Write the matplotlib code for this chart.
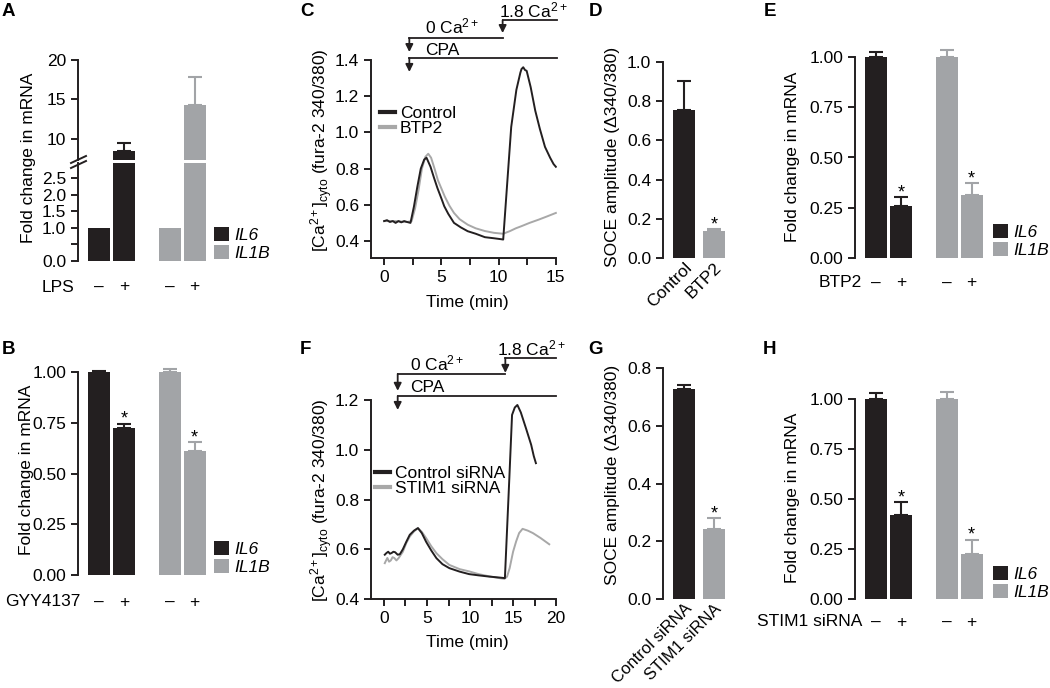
import matplotlib
matplotlib.use('Agg')
import matplotlib.pyplot as plt
from matplotlib.patches import Patch
from matplotlib.lines import Line2D
import numpy as np

W, H = 1050, 688
plt.rcParams['font.family'] = ['Liberation Sans', 'DejaVu Sans']
plt.rcParams['mathtext.fontset'] = 'custom'
plt.rcParams['mathtext.rm'] = 'Liberation Sans'
plt.rcParams['mathtext.it'] = 'Liberation Sans:italic'
plt.rcParams['font.size'] = 12.5

BLACK = '#231f20'
GRAY = '#a2a4a7'
TGRAY = '#a8a8a8'
FS = 12.5

# ---------------- data ----------------
genes = ['IL6', 'IL1B']
signs = ['\u2013', '+', '\u2013', '+']

# A: LPS
a_il6 = [1.0, 8.5]
a_il6_err = [0.0, 1.0]
a_il1b = [1.0, 14.3]
a_il1b_err = [0.0, 3.5]

# B: GYY4137
b_il6 = [1.0, 0.724]
b_il6_err = [0.003, 0.021]
b_il1b = [1.0, 0.612]
b_il1b_err = [0.016, 0.043]

# E: BTP2
e_il6 = [1.0, 0.26]
e_il6_err = [0.023, 0.043]
e_il1b = [1.0, 0.315]
e_il1b_err = [0.036, 0.058]

# H: STIM1 siRNA
h_il6 = [1.0, 0.421]
h_il6_err = [0.032, 0.063]
h_il1b = [1.0, 0.225]
h_il1b_err = [0.037, 0.071]

# D: SOCE amplitude
d_labels = ['Control', 'BTP2']
d_vals = [0.757, 0.136]
d_err = [0.148, 0.012]

# G: SOCE amplitude
g_labels = ['Control siRNA', 'STIM1 siRNA']
g_vals = [0.729, 0.243]
g_err = [0.011, 0.037]

# C traces
c_t_ctrl = [0.0, 0.25, 0.5, 0.75, 1.0, 1.25, 1.5, 1.75, 2.0, 2.3, 2.6, 2.9, 3.2, 3.5, 3.7, 4.05, 4.35, 4.65, 5.0, 5.25,
            5.6, 6.1, 6.7, 7.3, 8.0, 8.8, 9.6, 10.2, 10.4,
            11.1, 11.55, 11.9, 12.0, 12.15, 12.3, 12.45, 12.8, 13.2, 13.6, 14.05, 14.5, 14.8, 15.0]
c_v_ctrl = [0.51, 0.515, 0.505, 0.51, 0.50, 0.51, 0.503, 0.51, 0.505, 0.50, 0.59, 0.70, 0.80, 0.85, 0.86, 0.81, 0.75,
            0.693, 0.635, 0.592,
            0.55, 0.50, 0.475, 0.454, 0.44, 0.421, 0.415, 0.41, 0.408,
            1.03, 1.235, 1.33, 1.35, 1.36, 1.345, 1.34, 1.25, 1.12, 1.02, 0.92, 0.86, 0.825, 0.81]
c_t_btp2 = [0.0, 1.0, 2.0, 2.4, 2.7, 3.0, 3.3, 3.6, 3.85, 4.1, 4.4, 4.7, 5.0, 5.3, 5.7, 6.1, 6.6, 7.3, 8.0, 8.8, 9.6,
            10.4, 11.0, 11.5, 12.0, 12.7, 13.5, 14.2, 14.6, 15.0]
c_v_btp2 = [0.51, 0.51, 0.505, 0.51, 0.58, 0.68, 0.80, 0.865, 0.882, 0.86, 0.80, 0.735, 0.69, 0.645, 0.595, 0.555, 0.52,
            0.49, 0.47, 0.455, 0.445, 0.44, 0.455, 0.47, 0.482, 0.50, 0.518, 0.535, 0.545, 0.555]

# F traces
f_t_ctrl = [0.1, 0.3, 0.5, 0.7, 0.9, 1.1, 1.3, 1.6, 1.85, 2.2, 2.6, 3.0, 3.5, 3.95, 4.4, 4.9, 5.5, 6.1, 6.8, 7.6, 8.8,
            9.9, 11.0, 12.25, 13.2, 14.05,
            14.57, 14.88, 15.2, 15.5, 15.9, 16.5, 17.1, 17.4, 17.65]
f_v_ctrl = [0.578, 0.585, 0.59, 0.582, 0.585, 0.59, 0.588, 0.578, 0.58, 0.60, 0.63, 0.658, 0.675, 0.685, 0.665, 0.63,
            0.595, 0.564, 0.54, 0.524, 0.51, 0.50, 0.495, 0.49, 0.487, 0.484,
            0.89, 1.14, 1.17, 1.18, 1.15, 1.086, 1.02, 0.975, 0.946]
f_t_stim = [0.1, 0.25, 0.4, 0.6, 0.8, 1.0, 1.2, 1.45, 1.7, 2.2, 2.6, 3.0, 3.5, 3.95, 4.4, 4.9, 5.5, 6.1, 6.8, 7.6, 8.8,
            9.9, 11.0, 12.25, 13.2, 14.0,
            14.3, 14.6, 15.0, 15.35, 15.7, 16.1, 16.7, 17.3, 18.2, 19.2]
f_v_stim = [0.544, 0.555, 0.565, 0.55, 0.555, 0.568, 0.565, 0.555, 0.564, 0.59, 0.625, 0.651, 0.672, 0.685, 0.67, 0.645,
            0.612, 0.584, 0.56, 0.537, 0.52, 0.511, 0.50, 0.491, 0.485, 0.481,
            0.49, 0.524, 0.59, 0.631, 0.665, 0.682, 0.675, 0.665, 0.645, 0.62]

# ---------------- helpers ----------------
fig = plt.figure(figsize=(W / 100, H / 100), dpi=100)


def add_ax(l, r, b, t):
    return fig.add_axes([l / W, 1 - b / H, (r - l) / W, (b - t) / H])


def ftext(x, y, s, **kw):
    kw.setdefault('fontsize', FS)
    kw.setdefault('va', 'center')
    return fig.text(x / W, 1 - y / H, s, **kw)


def style(ax, bottom=False):
    for s in ['top', 'right']:
        ax.spines[s].set_visible(False)
    ax.spines['bottom'].set_visible(bottom)
    for s in ['left', 'bottom']:
        ax.spines[s].set_linewidth(1.4)
        ax.spines[s].set_color(BLACK)
    ax.tick_params(axis='both', direction='out', length=5, width=1.4, pad=3.5,
                   labelsize=FS, color=BLACK)
    ax.patch.set_visible(False)


def panel_label(x, y, s):
    ftext(x, y, s, fontsize=13.5, fontweight='bold', ha='left')


POS = np.array([0.0, 1.0, 2.82, 3.82])
BW = 0.88


def bar_group(ax, il6, il6e, il1b, il1be, stars=True, errs=True, clip=False):
    vals = list(il6) + list(il1b)
    errv = list(il6e) + list(il1be)
    cols = [BLACK, BLACK, GRAY, GRAY]
    ax.bar(POS, vals, width=BW, color=cols, zorder=2)
    if errs:
        for p, v, e, c in zip(POS, vals, errv, cols):
            eb = ax.errorbar([p], [v], yerr=[[0], [e]], fmt='none', ecolor=c,
                             elinewidth=1.5, capsize=5, capthick=1.5, zorder=1)
            for art in eb.lines[1] + eb.lines[2]:
                art.set_clip_on(clip)
    if stars:
        for i in [1, 3]:
            ax.annotate('*', xy=(POS[i], vals[i] + errv[i]), xytext=(0, 0),
                        textcoords='offset points', ha='center', va='baseline', fontsize=13)
    ax.set_xlim(-0.84, 4.44)
    ax.set_xticks([])


def signs_row(ax, off_px=26):
    for p, s in zip(POS, signs):
        ax.annotate(s, xy=(p, 0), xycoords=('data', 'axes fraction'),
                    xytext=(0, -off_px * 0.72), textcoords='offset points',
                    ha='center', va='center', fontsize=FS)


def gene_legend(x, ybot):
    handles = [Patch(facecolor=BLACK, edgecolor='none'), Patch(facecolor=GRAY, edgecolor='none')]
    leg = fig.legend(handles, genes, loc='lower left', bbox_to_anchor=(x / W, 1 - ybot / H),
                     bbox_transform=fig.transFigure, frameon=False, fontsize=FS,
                     handlelength=0.85, handleheight=0.85, handletextpad=0.3,
                     labelspacing=0.1, borderpad=0, borderaxespad=0)
    for t in leg.get_texts():
        t.set_fontstyle('italic')


def bar_panel(l, y0px, y1px, top_val, il6, il6e, il1b, il1be):
    ppu = y0px - y1px
    ax = add_ax(l, l + 132, y0px, y0px - top_val * ppu)
    style(ax)
    bar_group(ax, il6, il6e, il1b, il1be)
    ax.set_ylim(0, top_val)
    ax.set_yticks([0, 0.25, 0.5, 0.75, 1.0])
    ax.set_yticklabels(['0.00', '0.25', '0.50', '0.75', '1.00'])
    ax.spines['left'].set_bounds(0, 1)
    return ax


# ---------------- Panel A ----------------
axA1 = add_ax(78, 210, 160, 60)
axA2 = add_ax(78, 210, 261, 163)
for ax in (axA1, axA2):
    style(ax)
bar_group(axA1, a_il6, a_il6_err, a_il1b, a_il1b_err, stars=False, clip=True)
bar_group(axA2, a_il6, a_il6_err, a_il1b, a_il1b_err, stars=False, errs=False)
axA1.set_ylim(7.3, 20)
axA1.set_yticks([10, 15, 20])
axA2.set_ylim(0, 2.95)
axA2.set_yticks([0, 0.5, 1.0, 1.5, 2.0, 2.5])
axA2.set_yticklabels(['0.0', '', '1.0', '1.5', '2.0', '2.5'])
signs_row(axA2)
ftext(74, 287, 'LPS', ha='right')
gene_legend(214, 261)
ftext(28, 158, 'Fold change in mRNA', rotation=90, ha='center')
for dy in (0, 5):
    fig.add_artist(Line2D([71 / W, 86 / W], [1 - (163 + dy) / H, 1 - (156 + dy) / H],
                          color=BLACK, lw=1.4))
panel_label(2, 11, 'A')

# ---------------- Panel B ----------------
axB = bar_panel(78, 575, 372, 1.05, b_il6, b_il6_err, b_il1b, b_il1b_err)
signs_row(axB, 27)
ftext(80, 602, 'GYY4137', ha='right')
gene_legend(214, 575)
ftext(27, 470, 'Fold change in mRNA', rotation=90, ha='center')
panel_label(2, 350, 'B')

# ---------------- Panel E ----------------
axE = bar_panel(855, 258, 57, 1.05, e_il6, e_il6_err, e_il1b, e_il1b_err)
signs_row(axE, 25)
ftext(862, 283, 'BTP2', ha='right')
gene_legend(993, 258)
ftext(793, 157, 'Fold change in mRNA', rotation=90, ha='center')
panel_label(764, 11, 'E')

# ---------------- Panel H ----------------
axH = bar_panel(855, 599, 399, 1.05, h_il6, h_il6_err, h_il1b, h_il1b_err)
signs_row(axH, 23)
ftext(862, 622, 'STIM1 siRNA', ha='right')
gene_legend(993, 600)
ftext(793, 498, 'Fold change in mRNA', rotation=90, ha='center')
panel_label(763, 350, 'H')


# ---------------- Panels D / G ----------------
def soce_panel(y0px, ppu, top_val, ticks, labels, vals, errs, lab_fs):
    ax = add_ax(663, 733, y0px, y0px - top_val * ppu)
    style(ax)
    pos = [0, 1]
    cols = [BLACK, GRAY]
    ax.bar(pos, vals, width=0.733, color=cols, zorder=2)
    for p, v, e, c in zip(pos, vals, errs, cols):
        ax.errorbar([p], [v], yerr=[[0], [e]], fmt='none', ecolor=c,
                    elinewidth=1.5, capsize=5, capthick=1.5, zorder=1)
    ax.annotate('*', xy=(1, vals[1] + errs[1]), xytext=(0, 0), textcoords='offset points',
                ha='center', va='baseline', fontsize=13)
    ax.set_xlim(-0.7, 1.63)
    ax.set_ylim(0, top_val)
    ax.set_yticks(ticks)
    ax.set_yticklabels([f'{t:.1f}' for t in ticks])
    ax.spines['left'].set_bounds(ticks[0], ticks[-1])
    ax.set_xticks(pos)
    ax.set_xticklabels(labels, rotation=45, ha='right', va='top', rotation_mode='anchor',
                       fontsize=lab_fs)
    ax.tick_params(axis='x', length=0, pad=1.5)
    return ax


axD = soce_panel(258, 196, 1.02, [0, 0.2, 0.4, 0.6, 0.8, 1.0], d_labels, d_vals, d_err, FS)
ftext(612, 157, 'SOCE amplitude (\u0394340/380)', rotation=90, ha='center')
panel_label(589, 11, 'D')

axG = soce_panel(599, 288.75, 0.82, [0, 0.2, 0.4, 0.6, 0.8], g_labels, g_vals, g_err, 12)
ftext(612, 475, 'SOCE amplitude (\u0394340/380)', rotation=90, ha='center')
panel_label(588, 350, 'G')


# ---------------- Trace panels C / F ----------------
def trace_panel(y_bot_px, y_top_px, ylim, yticks, xlim_left, xmax, xticks, xlabels,
                t1, v1, t2, v2, labels, leg_xy):
    ax = add_ax(371, 557, y_bot_px, y_top_px)
    style(ax, bottom=True)
    ax.plot(t2, v2, color=TGRAY, lw=1.4, zorder=2)
    ax.plot(t1, v1, color=BLACK, lw=1.4, zorder=3)
    ax.set_xlim(xlim_left, xmax + 0.1)
    ax.set_ylim(*ylim)
    ax.set_yticks(yticks)
    ax.set_yticklabels([f'{t:.1f}' for t in yticks])
    ax.spines['left'].set_bounds(ylim[0], ylim[1])
    ax.spines['bottom'].set_bounds(xlim_left, xmax)
    ax.set_xticks(xticks)
    ax.set_xticklabels(xlabels)
    handles = [Line2D([], [], color=BLACK, lw=3), Line2D([], [], color=TGRAY, lw=3)]
    fig.legend(handles, labels, loc='upper left', bbox_to_anchor=(leg_xy[0] / W, 1 - leg_xy[1] / H),
               bbox_transform=fig.transFigure, frameon=False, fontsize=FS,
               handlelength=0.85, handletextpad=0.3, labelspacing=0.0, borderpad=0, borderaxespad=0)
    return ax


def ca_annot(ax, t_cpa, t_ca, xend, y_cpa, tip_cpa, y_0ca, tip_0ca, y_18, tip_18,
             txt_x1, y_txt_cpa, y_txt_0, txt_x2, y_txt_18):
    kw = dict(color=BLACK, lw=1.3, clip_on=False)
    ax.plot([t_cpa, xend], [y_cpa, y_cpa], **kw)
    ax.plot([t_cpa, t_ca], [y_0ca, y_0ca], **kw)
    ax.plot([t_ca, xend], [y_18, y_18], **kw)
    ap = dict(arrowstyle='-|>', lw=1.3, color=BLACK, mutation_scale=11, shrinkA=0, shrinkB=0)
    for x, y0, y1 in [(t_cpa, y_cpa, tip_cpa), (t_cpa, y_0ca, tip_0ca), (t_ca, y_18, tip_18)]:
        ax.annotate('', xy=(x, y1), xytext=(x, y0), arrowprops=ap, annotation_clip=False)
    ax.text(txt_x1, y_txt_cpa, 'CPA', ha='left', va='baseline', fontsize=FS, clip_on=False)
    ax.text(txt_x1, y_txt_0, r'0 Ca$^{2+}$', ha='left', va='baseline', fontsize=FS, clip_on=False)
    ax.text(txt_x2, y_txt_18, r'1.8 Ca$^{2+}$', ha='left', va='baseline', fontsize=FS, clip_on=False)


xt = [0, 2.5, 5, 7.5, 10, 12.5, 15]
axC = trace_panel(258, 60, (0.306, 1.4), [0.4, 0.6, 0.8, 1.0, 1.2, 1.4], -1.15, 15.0,
                  xt, ['0', '', '5', '', '10', '', '15'],
                  c_t_ctrl, c_v_ctrl, c_t_btp2, c_v_btp2, ['Control', 'BTP2'], (380, 106))
ca_annot(axC, 2.2, 10.35, 15.1, 1.411, 1.334, 1.521, 1.444, 1.62, 1.549,
         3.6, 1.428, 1.549, 10.0, 1.637)
ftext(322, 150, r'[Ca$^{2+}$]$_{\rm cyto}$ (fura-2 340/380)', rotation=90, ha='center')
ftext(467, 303, 'Time (min)', ha='center')
panel_label(300, 11, 'C')

xtf = [0, 2.5, 5, 7.5, 10, 12.5, 15, 17.5, 20]
axF = trace_panel(599, 400, (0.4, 1.2), [0.4, 0.6, 0.8, 1.0, 1.2], -1.5, 20.0,
                  xtf, ['0', '', '5', '', '10', '', '15', '', '20'],
                  f_t_ctrl, f_v_ctrl, f_t_stim, f_v_stim, ['Control siRNA', 'STIM1 siRNA'], (375, 466))
ca_annot(axF, 1.6, 14.1, 20.0, 1.216, 1.16, 1.305, 1.237, 1.369, 1.309,
         3.0, 1.233, 1.318, 13.1, 1.381)
ftext(322, 500, r'[Ca$^{2+}$]$_{\rm cyto}$ (fura-2 340/380)', rotation=90, ha='center')
ftext(467, 642, 'Time (min)', ha='center')
panel_label(300, 350, 'F')

fig.savefig('out.png', dpi=100)
